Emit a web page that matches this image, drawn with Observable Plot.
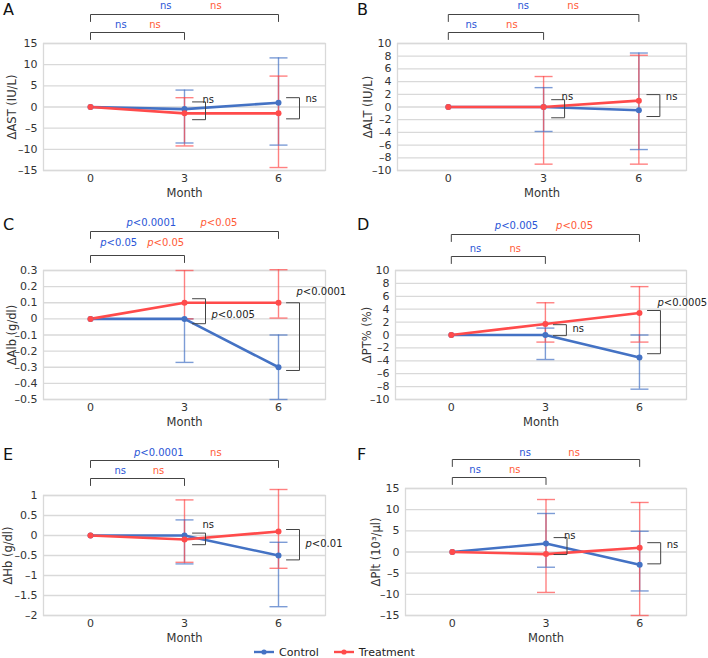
<!DOCTYPE html>
<html><head><meta charset="utf-8">
<script src="https://cdn.jsdelivr.net/npm/d3@7"></script>
<script src="https://cdn.jsdelivr.net/npm/@observablehq/plot@0.6"></script>
<style>
body{margin:0;background:#fff;font-family:"DejaVu Sans",Verdana,sans-serif;}
#root{position:relative;width:708px;height:658px;overflow:hidden;}
.panel{position:absolute;}
.letter{position:absolute;font-size:16px;line-height:20px;color:#111;}
#legend{position:absolute;left:253px;top:644px;height:16px;display:flex;align-items:center;font-size:11px;color:#222;}
#legend .item{display:flex;align-items:center;margin-right:14px;}
#legend svg{margin-right:4px;}
</style></head><body><div id="root"></div><script>
// ---------- shared ----------
const months = [0, 3, 6];
const seriesNames = ["Control", "Treatment"];
const xTickLabels = ["0", "3", "6"];
const xLabel = "Month";

// ---------- A: AST ----------
const astLabel = "ΔAST (IU/L)";
const astTicks = [-15, -10, -5, 0, 5, 10, 15];
const astControl = [0, -0.5, 1];
const astControlLo = [null, -8.5, -9];
const astControlHi = [null, 4, 11.6];
const astTreatment = [0, -1.5, -1.5];
const astTreatmentLo = [null, -9.2, -14.3];
const astTreatmentHi = [null, 2.2, 7.3];
const astBracketTop = [1.2, 2.2];
const astBracketBottom = [-3.0, -2.8];
const astBracketLabelY = [1.8, 2.0];
const astBracketLabel = ["ns", "ns"];
const astSig = ["ns", "ns", "ns", "ns"]; // 0-6 control, 0-6 treatment, 0-3 control, 0-3 treatment

// ---------- B: ALT ----------
const altLabel = "ΔALT (IU/L)";
const altTicks = [-10, -8, -6, -4, -2, 0, 2, 4, 6, 8, 10];
const altControl = [0, 0, -0.5];
const altControlLo = [null, -3.85, -6.7];
const altControlHi = [null, 3.05, 8.5];
const altTreatment = [0, 0, 1];
const altTreatmentLo = [null, -9, -9];
const altTreatmentHi = [null, 4.8, 8.15];
const altBracketTop = [1.15, 1.95];
const altBracketBottom = [-1.7, -1.5];
const altBracketLabelY = [1.6, 1.6];
const altBracketLabel = ["ns", "ns"];
const altSig = ["ns", "ns", "ns", "ns"];

// ---------- C: Alb ----------
const albLabel = "ΔAlb (g/dl)";
const albTicks = [-0.5, -0.4, -0.3, -0.2, -0.1, 0, 0.1, 0.2, 0.3];
const albControl = [0, 0, -0.3];
const albControlLo = [null, -0.27, -0.5];
const albControlHi = [null, 0, -0.1];
const albTreatment = [0, 0.1, 0.1];
const albTreatmentLo = [null, 0, 0.005];
const albTreatmentHi = [null, 0.3, 0.305];
const albBracketTop = [0.125, 0.1];
const albBracketBottom = [-0.03, -0.32];
const albBracketLabelY = [0.025, 0.166];
const albBracketLabel = ["p<0.005", "p<0.0001"];
const albSig = ["p<0.0001", "p<0.05", "p<0.05", "p<0.05"];

// ---------- D: PT% ----------
const ptLabel = "ΔPT% (%)";
const ptTicks = [-10, -8, -6, -4, -2, 0, 2, 4, 6, 8, 10];
const ptControl = [0, 0, -3.5];
const ptControlLo = [null, -3.8, -8.4];
const ptControlHi = [null, 1.07, 0];
const ptTreatment = [0, 1.7, 3.4];
const ptTreatmentLo = [null, -1.1, -1.1];
const ptTreatmentHi = [null, 5.0, 7.5];
const ptBracketTop = [1.6, 3.8];
const ptBracketBottom = [-0.1, -2.9];
const ptBracketLabelY = [0.9, 5.0];
const ptBracketLabel = ["ns", "p<0.0005"];
const ptSig = ["p<0.005", "p<0.05", "ns", "ns"];

// ---------- E: Hb ----------
const hbLabel = "ΔHb (g/dl)";
const hbTicks = [-2, -1.5, -1, -0.5, 0, 0.5, 1];
const hbControl = [0, 0, -0.5];
const hbControlLo = [null, -0.71, -1.78];
const hbControlHi = [null, 0.39, -0.17];
const hbTreatment = [0, -0.1, 0.1];
const hbTreatmentLo = [null, -0.67, -0.82];
const hbTreatmentHi = [null, 0.89, 1.15];
const hbBracketTop = [0.06, 0.15];
const hbBracketBottom = [-0.23, -0.61];
const hbBracketLabelY = [0.27, -0.2];
const hbBracketLabel = ["ns", "p<0.01"];
const hbSig = ["p<0.0001", "ns", "ns", "ns"];

// ---------- F: Plt ----------
const pltLabel = "ΔPlt (10³/μl)";
const pltTicks = [-15, -10, -5, 0, 5, 10, 15];
const pltControl = [0, 2, -3];
const pltControlLo = [null, -3.6, -9.2];
const pltControlHi = [null, 9.1, 4.9];
const pltTreatment = [0, -0.5, 1];
const pltTreatmentLo = [null, -9.55, -15];
const pltTreatmentHi = [null, 12.4, 11.7];
const pltBracketTop = [3.4, 2.2];
const pltBracketBottom = [-0.6, -2.8];
const pltBracketLabelY = [3.9, 1.8];
const pltBracketLabel = ["ns", "ns"];
const pltSig = ["ns", "ns", "ns", "ns"];

// ---------- styles ----------
const BLUE = "#4472c4", RED = "#ff4b4b";
const BLUE_TXT = "#2a55d6", RED_TXT = "#ff5a36";
const GRID = "#d9d9d9", INK = "#333";

const panels = [
  {letter:"A", label:astLabel, ticks:astTicks, c:astControl, cLo:astControlLo, cHi:astControlHi, t:astTreatment, tLo:astTreatmentLo, tHi:astTreatmentHi, bTop:astBracketTop, bBot:astBracketBottom, bLy:astBracketLabelY, bLab:astBracketLabel, sig:astSig,
   L:{left:0, top:0, ml:43, mr:29, mt:43, ih:127, mb:40, xmin:-1.5, ylx:-31, topText:5, topBr:14, lowText:24, lowBr:32, sigX:[2.4, 4.0, 0.97, 2.06]}},
  {letter:"B", label:altLabel, ticks:altTicks, c:altControl, cLo:altControlLo, cHi:altControlHi, t:altTreatment, tLo:altTreatmentLo, tHi:altTreatmentHi, bTop:altBracketTop, bBot:altBracketBottom, bLy:altBracketLabelY, bLab:altBracketLabel, sig:altSig,
   L:{left:354, top:0, ml:43, mr:22, mt:43, ih:127, mb:40, xmin:-1.6, ylx:-29, topText:5, topBr:14, lowText:24, lowBr:32, sigX:[2.36, 3.93, 0.72, 2.0]}},
  {letter:"C", label:albLabel, ticks:albTicks, c:albControl, cLo:albControlLo, cHi:albControlHi, t:albTreatment, tLo:albTreatmentLo, tHi:albTreatmentHi, bTop:albBracketTop, bBot:albBracketBottom, bLy:albBracketLabelY, bLab:albBracketLabel, sig:albSig,
   L:{left:0, top:215, ml:43, mr:29, mt:55, ih:129, mb:38, xmin:-1.5, ylx:-31, topText:7, topBr:16, lowText:27, lowBr:40, sigX:[1.94, 4.1, 0.9, 2.4]}},
  {letter:"D", label:ptLabel, ticks:ptTicks, c:ptControl, cLo:ptControlLo, cHi:ptControlHi, t:ptTreatment, tLo:ptTreatmentLo, tHi:ptTreatmentHi, bTop:ptBracketTop, bBot:ptBracketBottom, bLy:ptBracketLabelY, bLab:ptBracketLabel, sig:ptSig,
   L:{left:354, top:215, ml:41, mr:22, mt:55, ih:129, mb:38, xmin:-1.78, ylx:-28, topText:10, topBr:19, lowText:33, lowBr:41, sigX:[2.08, 3.93, 0.77, 2.04]}},
  {letter:"E", label:hbLabel, ticks:hbTicks, c:hbControl, cLo:hbControlLo, cHi:hbControlHi, t:hbTreatment, tLo:hbTreatmentLo, tHi:hbTreatmentHi, bTop:hbBracketTop, bBot:hbBracketBottom, bLy:hbBracketLabelY, bLab:hbBracketLabel, sig:hbSig,
   L:{left:0, top:445, ml:43, mr:29, mt:50, ih:120, mb:33, xmin:-1.5, ylx:-35, topText:7, topBr:15, lowText:25, lowBr:33, sigX:[2.18, 4.0, 0.95, 2.17]}},
  {letter:"F", label:pltLabel, ticks:pltTicks, c:pltControl, cLo:pltControlLo, cHi:pltControlHi, t:pltTreatment, tLo:pltTreatmentLo, tHi:pltTreatmentHi, bTop:pltBracketTop, bBot:pltBracketBottom, bLy:pltBracketLabelY, bLab:pltBracketLabel, sig:pltSig,
   L:{left:354, top:445, ml:51, mr:22, mt:43, ih:127, mb:33, xmin:-1.5, ylx:-29, topText:7, topBr:14, lowText:24, lowBr:32, sigX:[2.33, 3.9, 0.73, 2.0]}}
];

const fmt = d => d < 0 ? "\u2013" + Math.abs(d) : String(d);
const root = document.getElementById("root");
const SVGNS = "http://www.w3.org/2000/svg";

function drawPanel(p) {
  const L = p.L, W = 354;
  const H = L.mt + L.ih + L.mb;
  const y0 = d3.min(p.ticks), y1 = d3.max(p.ticks), span = y1 - y0;
  const xmax = 7.5, xmin = L.xmin;
  const innerW = W - L.ml - L.mr;
  const mPerPx = (xmax - xmin) / innerW;
  const uPerPx = span / L.ih;
  const yAt = px => y1 + (L.mt - px) * uPerPx; // px measured from svg top
  const xOff = (m, px) => m + px * mPerPx;

  const ser = [
    {name: seriesNames[0], v: p.c, lo: p.cLo, hi: p.cHi},
    {name: seriesNames[1], v: p.t, lo: p.tLo, hi: p.tHi}
  ];
  const pts = ser.flatMap(s => months.map((m, i) => ({series: s.name, month: m, value: s.v[i]})));
  const errs = ser.flatMap(s => months.map((m, i) => ({series: s.name, month: m, lo: s.lo[i], hi: s.hi[i]}))).filter(d => d.lo != null);
  const caps = errs.flatMap(d => [{series: d.series, month: d.month, y: d.lo}, {series: d.series, month: d.month, y: d.hi}]);

  // right-hand comparison brackets at months 3 and 6
  const bm = [3, 6];
  const brPts = bm.flatMap((m, i) => [
    {id: i, x: xOff(m, 8), y: p.bTop[i]},
    {id: i, x: xOff(m, 21), y: p.bTop[i]},
    {id: i, x: xOff(m, 21), y: p.bBot[i]},
    {id: i, x: xOff(m, 8), y: p.bBot[i]}
  ]);
  const brLabels = bm.map((m, i) => ({x: xOff(m, p.bLy[i] > p.bTop[i] ? 18 : 27), y: p.bLy[i], text: p.bLab[i]}));

  // top brackets (0-6 and 0-3)
  const tb = [
    {id: "a", x: 0, y: yAt(L.topBr + 7)}, {id: "a", x: 0, y: yAt(L.topBr)}, {id: "a", x: 6, y: yAt(L.topBr)}, {id: "a", x: 6, y: yAt(L.topBr + 7)},
    {id: "b", x: 0, y: yAt(L.lowBr + 7)}, {id: "b", x: 0, y: yAt(L.lowBr)}, {id: "b", x: 3, y: yAt(L.lowBr)}, {id: "b", x: 3, y: yAt(L.lowBr + 7)}
  ];
  const sigBlue = [
    {x: L.sigX[0], y: yAt(L.topText), text: p.sig[0]},
    {x: L.sigX[2], y: yAt(L.lowText), text: p.sig[2]}
  ];
  const sigRed = [
    {x: L.sigX[1], y: yAt(L.topText), text: p.sig[1]},
    {x: L.sigX[3], y: yAt(L.lowText), text: p.sig[3]}
  ];

  const chart = Plot.plot({
    width: W, height: H,
    marginLeft: L.ml, marginRight: L.mr, marginTop: L.mt, marginBottom: L.mb,
    style: {fontFamily: "'DejaVu Sans', Verdana, sans-serif", fontSize: "11px", color: INK, background: "transparent", overflow: "visible"},
    x: {domain: [xmin, xmax], axis: null},
    y: {domain: [y0, y1], axis: null},
    color: {domain: seriesNames, range: [BLUE, RED]},
    marks: [
      Plot.gridY(p.ticks, {stroke: GRID, strokeOpacity: 1, strokeWidth: 1.3}),
      Plot.frame({stroke: GRID, strokeWidth: 1.3}),
      Plot.axisY(p.ticks, {tickSize: 0, tickPadding: 6, tickFormat: fmt, label: null, fontSize: 11, fill: INK}),
      Plot.axisX(months, {tickSize: 0, tickPadding: 4, tickFormat: (d, i) => xTickLabels[i], label: null, fontSize: 11, fill: INK}),
      Plot.text([xLabel], {frameAnchor: "bottom", lineAnchor: "middle", textAnchor: "middle", dy: 23, text: d => d, fontSize: 11.5, fill: INK}),
      Plot.text([p.label], {frameAnchor: "left", lineAnchor: "middle", textAnchor: "middle", dx: L.ylx, rotate: -90, text: d => d, fontSize: 11.5, fill: INK}),
      // error bars
      Plot.ruleX(errs, {x: "month", y1: "lo", y2: "hi", stroke: "series", strokeWidth: 1.4, strokeOpacity: 0.7}),
      Plot.link(caps, {x1: d => xOff(d.month, -9), x2: d => xOff(d.month, 9), y1: "y", y2: "y", stroke: "series", strokeWidth: 1.4, strokeOpacity: 0.7}),
      // lines + points
      Plot.line(pts, {x: "month", y: "value", z: "series", stroke: "series", strokeWidth: 2.6}),
      Plot.dot(pts, {x: "month", y: "value", fill: "series", r: 3, stroke: null}),
      // right brackets
      Plot.line(brPts, {x: "x", y: "y", z: "id", stroke: "#444", strokeWidth: 1}),
      Plot.text(brLabels, {x: "x", y: "y", text: "text", textAnchor: "start", fontSize: 10, fill: "#222"}),
      // top brackets
      Plot.line(tb, {x: "x", y: "y", z: "id", stroke: "#444", strokeWidth: 1}),
      Plot.text(sigBlue, {x: "x", y: "y", text: "text", fill: BLUE_TXT, fontSize: 10}),
      Plot.text(sigRed, {x: "x", y: "y", text: "text", fill: RED_TXT, fontSize: 10})
    ]
  });

  // italic "p" in p-value labels
  chart.querySelectorAll("text").forEach(t => {
    if (t.childElementCount === 0 && /^p</.test(t.textContent)) {
      const rest = t.textContent.slice(1);
      t.textContent = "";
      const a = document.createElementNS(SVGNS, "tspan");
      a.setAttribute("font-style", "italic");
      a.textContent = "p";
      const b = document.createElementNS(SVGNS, "tspan");
      b.textContent = rest;
      t.append(a, b);
    }
  });

  const wrap = document.createElement("div");
  wrap.className = "panel";
  wrap.style.left = L.left + "px";
  wrap.style.top = L.top + "px";
  wrap.appendChild(chart);
  root.appendChild(wrap);

  const let_ = document.createElement("div");
  let_.className = "letter";
  let_.textContent = p.letter;
  let_.style.left = (L.left + 3) + "px";
  let_.style.top = (L.top + 0) + "px";
  root.appendChild(let_);
}

panels.forEach(drawPanel);

// legend
const legend = document.createElement("div");
legend.id = "legend";
[[seriesNames[0], BLUE], [seriesNames[1], RED]].forEach(([name, col]) => {
  const item = document.createElement("div");
  item.className = "item";
  item.innerHTML = `<svg width="22" height="10"><line x1="1" y1="5" x2="21" y2="5" stroke="${col}" stroke-width="2.4"/><circle cx="11" cy="5" r="2.6" fill="${col}"/></svg><span>${name}</span>`;
  legend.appendChild(item);
});
root.appendChild(legend);
</script></body></html>
